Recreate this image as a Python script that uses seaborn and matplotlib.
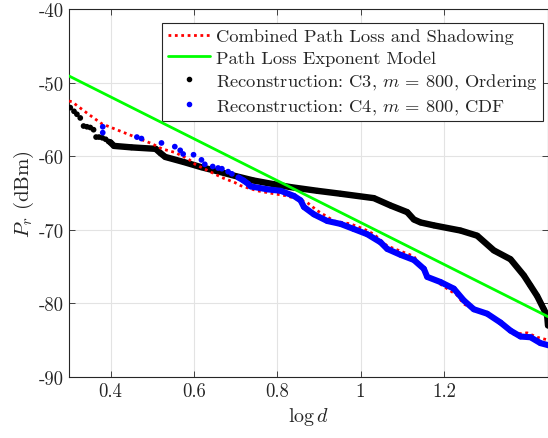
import numpy as np
import pandas as pd
import seaborn as sns
import matplotlib.pyplot as plt
from matplotlib.lines import Line2D

# values
combined_x = [0.300, 0.307, 0.347, 0.379, 0.419, 0.459, 0.499, 0.523, 0.555, 0.587,
              0.603, 0.635, 0.667, 0.699, 0.712, 0.752, 0.792, 0.824, 0.856, 0.872,
              0.896, 0.936, 0.976, 1.008, 1.032, 1.064, 1.096, 1.128, 1.160, 1.192,
              1.232, 1.248, 1.296, 1.336, 1.368, 1.400, 1.424, 1.452]
combined_y = [-52.5, -52.6, -54.3, -55.6, -56.5, -57.4, -58.3, -59.0, -59.5, -60.4,
              -61.1, -62.0, -62.9, -63.6, -64.0, -64.7, -65.1, -65.4, -66.0, -66.3,
              -67.4, -68.8, -69.2, -69.9, -70.6, -72.2, -72.9, -73.6, -76.3, -77.4,
              -78.9, -80.1, -81.3, -82.5, -84.2, -84.0, -84.6, -85.0]

model_x = [0.30, 1.45]
model_y = [-49.1, -81.8]

c3_x = [0.303, 0.312, 0.319, 0.327, 0.335, 0.343, 0.351, 0.359, 0.365, 0.372,
        0.380, 0.388, 0.395, 0.399, 0.408, 0.450, 0.508, 0.520, 0.531, 0.576,
        0.618, 0.660, 0.700, 0.743, 0.791, 0.832, 0.896, 0.952, 1.032, 1.072,
        1.112, 1.128, 1.144, 1.176, 1.240, 1.280, 1.320, 1.360, 1.392, 1.408,
        1.424, 1.440, 1.448, 1.450]
c3_y = [-53.4, -53.9, -54.3, -54.8, -55.9, -56.0, -56.1, -56.4, -57.4, -57.4,
        -57.5, -57.7, -58.0, -58.1, -58.6, -58.8, -59.0, -59.6, -60.1, -60.8,
        -61.5, -62.1, -62.7, -63.3, -63.8, -64.2, -64.7, -65.1, -65.7, -66.7,
        -67.6, -68.6, -69.0, -69.4, -70.1, -70.8, -72.8, -74.0, -76.2, -77.6,
        -79.0, -80.8, -81.7, -83.0]

c4_x = [0.381, 0.381, 0.463, 0.474, 0.522, 0.554, 0.567, 0.574, 0.599, 0.618,
        0.626, 0.645, 0.658, 0.667, 0.682, 0.691, 0.707, 0.719, 0.731, 0.736,
        0.776, 0.808, 0.840, 0.856, 0.864, 0.888, 0.920, 0.952, 0.984, 1.016,
        1.048, 1.064, 1.096, 1.128, 1.152, 1.160, 1.192, 1.224, 1.248, 1.272,
        1.304, 1.336, 1.360, 1.384, 1.408, 1.432, 1.452]
c4_y = [-56.0, -56.8, -57.4, -57.6, -58.2, -58.7, -59.2, -59.7, -59.8, -60.5,
        -61.1, -61.4, -61.6, -61.7, -62.1, -62.4, -62.9, -63.3, -63.8, -64.1,
        -64.5, -64.7, -65.4, -66.0, -66.9, -67.9, -68.8, -69.2, -69.9, -70.6,
        -71.7, -72.6, -73.4, -74.1, -75.3, -76.4, -77.1, -78.0, -79.6, -80.8,
        -81.4, -82.6, -83.7, -84.5, -84.6, -85.4, -85.7]

x_ticks = [0.4, 0.6, 0.8, 1.0, 1.2]
x_tick_labels = ['0.4', '0.6', '0.8', '1', '1.2']
y_ticks = [-90, -80, -70, -60, -50, -40]
y_tick_labels = ['-90', '-80', '-70', '-60', '-50', '-40']

labels = ['Combined Path Loss and Shadowing',
          'Path Loss Exponent Model',
          'Reconstruction: C3, $m$ = 800, Ordering',
          'Reconstruction: C4, $m$ = 800, CDF']

df_c3 = pd.DataFrame({'x': c3_x, 'y': c3_y})
df_c4 = pd.DataFrame({'x': c4_x, 'y': c4_y})

sns.set_theme(style="ticks")
plt.rcParams['font.family'] = ['cmr10', 'DejaVu Serif']
plt.rcParams['mathtext.fontset'] = 'cm'
plt.rcParams['axes.unicode_minus'] = False

fig = plt.figure(figsize=(5.48, 4.39), dpi=100)
ax = fig.add_axes([69/548, 61/439, 479/548, 368/439])

# dense parts of the reconstructions look like a thick band
dense3 = df_c3[df_c3.x >= 0.399]
dense4 = df_c4[df_c4.x >= 0.70]
sns.lineplot(x=dense3.x, y=dense3.y, ax=ax, color='black', lw=4.6,
             sort=False, estimator=None, zorder=3)
sns.scatterplot(x='x', y='y', data=df_c3, ax=ax, color='black', s=17,
                edgecolor='none', zorder=3)

sns.lineplot(x=combined_x, y=combined_y, ax=ax, color='red', lw=2.0,
             linestyle=(0, (1, 1.3)), sort=False, estimator=None, zorder=4)

sns.lineplot(x=dense4.x, y=dense4.y, ax=ax, color='blue', lw=4.4,
             sort=False, estimator=None, zorder=5)
sns.scatterplot(x='x', y='y', data=df_c4, ax=ax, color='blue', s=17,
                edgecolor='none', zorder=5)

sns.lineplot(x=model_x, y=model_y, ax=ax, color='#00ff00', lw=2.0,
             sort=False, estimator=None, zorder=6)

ax.set_xlim(0.3, 1.45)
ax.set_ylim(-90, -40)
ax.set_xticks(x_ticks)
ax.set_xticklabels(x_tick_labels)
ax.set_yticks(y_ticks)
ax.set_yticklabels(y_tick_labels)
ax.tick_params(direction='in', top=True, right=True, length=4, width=0.6,
               colors='#262626', labelsize=13.5)
ax.grid(True, color='#e3e3e3', lw=0.8)
ax.set_axisbelow(True)
for s in ax.spines.values():
    s.set_color('#262626')
    s.set_linewidth(0.8)

ax.set_xlabel(r'$\log d$', fontsize=14.5, labelpad=4)
ax.set_ylabel(r'$P_r$ (dBm)', fontsize=15, labelpad=2)

handles = [
    Line2D([], [], color='red', lw=2.0, linestyle=(0, (1, 1.3))),
    Line2D([], [], color='#00ff00', lw=2.0),
    Line2D([], [], color='black', marker='o', ms=3, lw=0),
    Line2D([], [], color='blue', marker='o', ms=3, lw=0),
]
leg = ax.legend(handles, labels, loc='upper right', bbox_to_anchor=(0.99, 0.962),
                fontsize=13.3, frameon=True, fancybox=False, framealpha=1,
                edgecolor='#262626', handlelength=2.3, handletextpad=0.3,
                labelspacing=0.3, borderpad=0.3, borderaxespad=0)
leg.get_frame().set_linewidth(0.8)

fig.savefig('out.png', dpi=100)
